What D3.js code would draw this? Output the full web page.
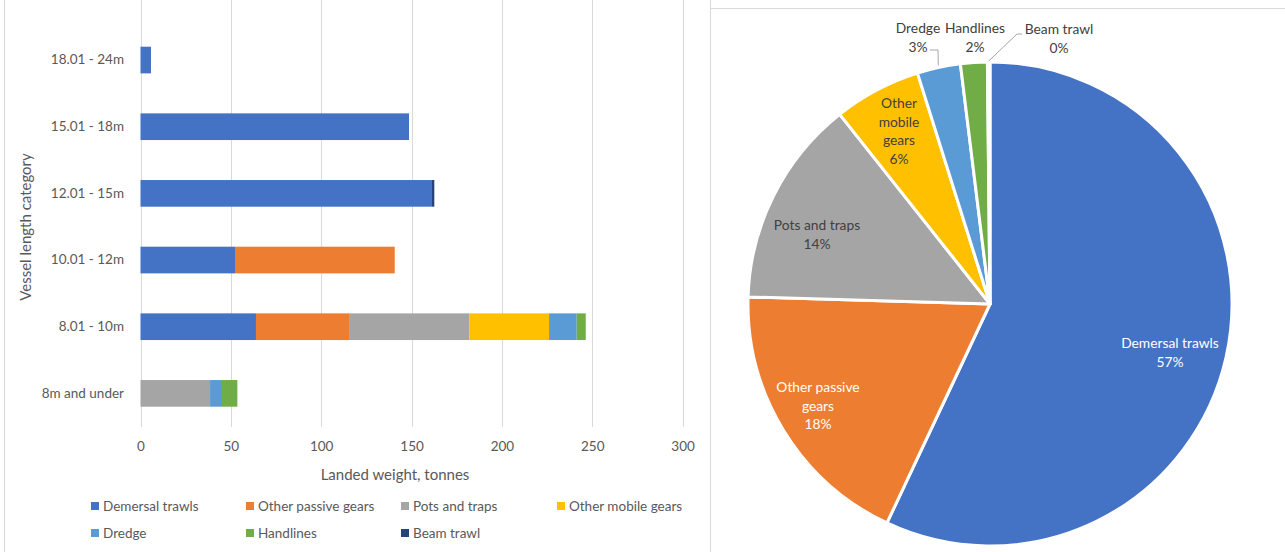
<!DOCTYPE html>
<html>
<head>
<meta charset="utf-8">
<script src="https://cdn.jsdelivr.net/npm/d3@7/dist/d3.min.js"></script>
<style>
  html, body { margin: 0; padding: 0; background: #fff; }
  svg { display: block; }
  text { font-family: Lato, "Open Sans", sans-serif; }
</style>
</head>
<body>
<svg id="chart" width="1285" height="552"></svg>
<script>
// Landed weight (tonnes) by vessel length category and gear group
const categories = ["18.01 - 24m", "15.01 - 18m", "12.01 - 15m", "10.01 - 12m", "8.01 - 10m", "8m and under"];
const gearNames = ["Demersal trawls", "Other passive gears", "Pots and traps", "Other mobile gears", "Dredge", "Handlines", "Beam trawl"];
const gearColors = ["#4472C4", "#ED7D31", "#A5A5A5", "#FFC000", "#5B9BD5", "#70AD47", "#264478"];

const demersalTrawls   = [5.8, 148.6, 161.3, 52.3, 63.9, 0];
const otherPassive     = [0, 0, 0, 88.4, 51.5, 0];
const potsAndTraps     = [0, 0, 0, 0, 66.6, 38.5];
const otherMobile      = [0, 0, 0, 0, 44.1, 0];
const dredge           = [0, 0, 0, 0, 15.3, 6.6];
const handlines        = [0, 0, 0, 0, 5.0, 8.5];
const beamTrawl        = [0, 0, 1.3, 0, 0, 0];

const xTicks = [0, 50, 100, 150, 200, 250, 300];

const seriesValues = [demersalTrawls, otherPassive, potsAndTraps, otherMobile, dredge, handlines, beamTrawl];

const svg = d3.select("#chart");
const axisColor = "#595959";
const gridColor = "#D9D9D9";

// ---------- panel frames ----------
svg.append("line").attr("x1", 4.5).attr("x2", 4.5).attr("y1", 0).attr("y2", 552)
  .attr("stroke", gridColor);
svg.append("line").attr("x1", 710.5).attr("x2", 710.5).attr("y1", 0).attr("y2", 552)
  .attr("stroke", gridColor);
svg.append("line").attr("x1", 710).attr("x2", 1285).attr("y1", 8.5).attr("y2", 8.5)
  .attr("stroke", gridColor);

// ---------- stacked horizontal bar chart ----------
const rows = categories.map((c, i) => {
  const r = { category: c };
  gearNames.forEach((g, k) => { r[g] = seriesValues[k][i]; });
  return r;
});
const stacked = d3.stack().keys(gearNames)(rows);

const x = d3.scaleLinear().domain([0, 300]).range([140.5, 682.6]);
const y = d3.scaleBand().domain(categories).range([26.7, 426.7])
  .paddingInner(0.6).paddingOuter(0.3);

// vertical gridlines
svg.append("g").selectAll("line").data(xTicks).join("line")
  .attr("x1", d => Math.round(x(d)) + 0.5).attr("x2", d => Math.round(x(d)) + 0.5)
  .attr("y1", 0).attr("y2", 427)
  .attr("stroke", gridColor).attr("stroke-width", 1);

// bars
svg.append("g").selectAll("g").data(stacked).join("g")
  .attr("fill", (d, i) => gearColors[i])
  .selectAll("rect").data(d => d.filter(s => s[1] - s[0] > 0)).join("rect")
  .attr("x", d => x(d[0]))
  .attr("width", d => x(d[1]) - x(d[0]))
  .attr("y", d => y(d.data.category))
  .attr("height", y.bandwidth());

// x axis tick labels
const xAxis = d3.axisBottom(x).tickValues(xTicks).tickSize(0).tickPadding(0);
const gx = svg.append("g").attr("transform", "translate(0,441)").call(xAxis);
gx.select(".domain").remove();
gx.selectAll("text").attr("fill", axisColor).attr("font-size", 13.5)
  .attr("font-family", "Lato, sans-serif").attr("dy", "0.71em");

// y axis category labels
const yAxis = d3.axisLeft(y).tickSize(0).tickPadding(0);
const gy = svg.append("g").attr("transform", "translate(124,0)").call(yAxis);
gy.select(".domain").remove();
gy.selectAll("text").attr("fill", axisColor).attr("font-size", 13.5)
  .attr("font-family", "Lato, sans-serif");

// axis titles
svg.append("text").attr("x", 395).attr("y", 480).attr("text-anchor", "middle")
  .attr("fill", axisColor).attr("font-size", 15).text("Landed weight, tonnes");
svg.append("text").attr("transform", "translate(31,227) rotate(-90)")
  .attr("text-anchor", "middle").attr("fill", axisColor).attr("font-size", 15)
  .text("Vessel length category");

// legend
const legendCols = [91, 246, 401, 557];
const legendRows = [506, 533];
const legend = svg.append("g").selectAll("g").data(gearNames).join("g")
  .attr("transform", (d, i) => `translate(${legendCols[i % 4]},${legendRows[Math.floor(i / 4)]})`);
legend.append("rect").attr("x", 0).attr("y", -4).attr("width", 8).attr("height", 8)
  .attr("fill", (d, i) => gearColors[i]);
legend.append("text").attr("x", 12).attr("y", 0).attr("dy", "0.35em")
  .attr("fill", axisColor).attr("font-size", 13.5).text(d => d);

// ---------- pie chart of total landings by gear ----------
const totals = seriesValues.map(v => d3.sum(v));
const grand = d3.sum(totals);
const pieData = gearNames.map((g, i) => ({ name: g, value: totals[i], color: gearColors[i] }));
const arcs = d3.pie().sort(null).value(d => d.value)(pieData);

const cx = 990, cy = 304, R = 242;
const arc = d3.arc().innerRadius(0).outerRadius(R);
const pieG = svg.append("g").attr("transform", `translate(${cx},${cy})`);
pieG.selectAll("path").data(arcs).join("path")
  .attr("d", arc).attr("fill", d => d.data.color)
  .attr("stroke", "#fff").attr("stroke-width", 3).attr("stroke-linejoin", "round");

const pct = d => Math.round(d.value / grand * 100) + "%";

// label placement: inside slices for the large ones, outside with leaders for small
const labelSpec = {
  "Demersal trawls":     { lines: ["Demersal trawls"], x: 1170, y: 343, fill: "#fff" },
  "Other passive gears": { lines: ["Other passive", "gears"], x: 818, y: 387, fill: "#fff" },
  "Pots and traps":      { lines: ["Pots and traps"], x: 817, y: 225, fill: "#404040" },
  "Other mobile gears":  { lines: ["Other", "mobile", "gears"], x: 899, y: 103, fill: "#404040" },
  "Dredge":              { lines: ["Dredge"], x: 918, y: 28, fill: "#404040" },
  "Handlines":           { lines: ["Handlines"], x: 975, y: 28, fill: "#404040" },
  "Beam trawl":          { lines: ["Beam trawl"], x: 1059, y: 29, fill: "#404040" }
};
const lh = 18.8;
arcs.forEach(a => {
  const s = labelSpec[a.data.name];
  const t = svg.append("text").attr("text-anchor", "middle").attr("fill", s.fill)
    .attr("font-size", 13.8);
  s.lines.concat([pct(a.data)]).forEach((ln, j) => {
    t.append("tspan").attr("x", s.x).attr("y", s.y + j * lh).attr("dy", "0.35em").text(ln);
  });
});

// leader lines for the thin slices
const leader = d3.line();
const midPoint = (a, r) => {
  const m = (a.startAngle + a.endAngle) / 2;
  return [cx + Math.sin(m) * r, cy - Math.cos(m) * r];
};
const dredgeArc = arcs[4], beamArc = arcs[6];
svg.append("path").attr("d", leader([[930, 50], [938, 50], midPoint(dredgeArc, R + 2)]))
  .attr("fill", "none").attr("stroke", "#A6A6A6").attr("stroke-width", 1);
svg.append("path").attr("d", leader([[1022, 34], [1017, 34], midPoint(beamArc, R + 1)]))
  .attr("fill", "none").attr("stroke", "#A6A6A6").attr("stroke-width", 1);
</script>
</body>
</html>
